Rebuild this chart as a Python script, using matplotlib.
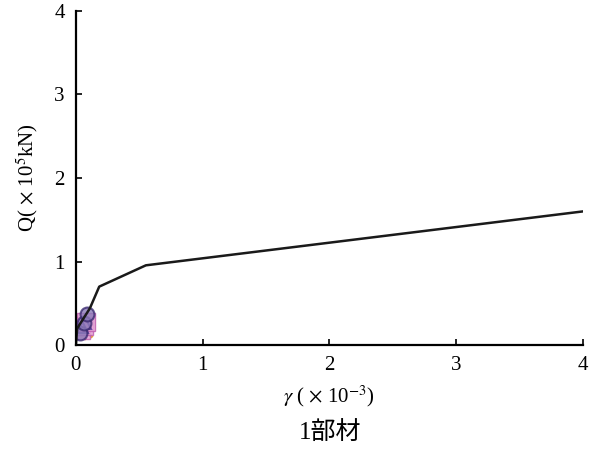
import numpy as np
import matplotlib
matplotlib.use("Agg")
import matplotlib.pyplot as plt

plt.rcParams['font.family'] = ['Liberation Serif', 'Noto Sans CJK JP', 'DejaVu Sans']
plt.rcParams['mathtext.fontset'] = 'stix'

# skeleton curve (analysis)
gamma_line = [0.0, 0.01, 0.11, 0.184, 0.552, 4.0]
q_line     = [0.0, 0.20, 0.44, 0.70, 0.955, 1.60]

# test results near the origin
gamma_circ = [0.03, 0.06, 0.09]
q_circ     = [0.15, 0.27, 0.37]
gamma_sq   = [0.04, 0.06, 0.08]
q_sq       = [0.18, 0.23, 0.28]
gamma_tri  = [0.05, 0.07]
q_tri      = [0.22, 0.27]
gamma_x    = [0.03, 0.06, 0.08]
q_x        = [0.14, 0.20, 0.17]

xticks = [0, 1, 2, 3, 4]
yticks = [0, 1, 2, 3, 4]

fig = plt.figure(figsize=(5.93, 4.5), dpi=100)
ax = fig.add_axes([0.128, 0.233, 0.855, 0.743])

ax.plot(gamma_x, q_x, 'x', color='#e8a23a', ms=8, mew=2)
ax.plot(gamma_sq, q_sq, 's', mfc='#e6a6d8', mec='#c060b0', ms=13, alpha=0.85)
ax.plot(gamma_tri, q_tri, '^', mfc='none', mec='#6a4aa0', ms=9, mew=1.5)
ax.plot(gamma_circ, q_circ, 'o', mfc='#8a7ab8', mec='#3a2a70', ms=10, mew=1.5, alpha=0.8)
ax.plot(gamma_line, q_line, color='#1a1a1a', lw=1.8)

ax.set_xlim(0, 4)
ax.set_ylim(0, 4)
ax.set_xticks(xticks)
ax.set_yticks(yticks)
ax.tick_params(direction='in', length=4, width=1.2, labelsize=15, pad=8)
for s in ['top', 'right']:
    ax.spines[s].set_visible(False)
for s in ['left', 'bottom']:
    ax.spines[s].set_linewidth(1.6)

ax.set_ylabel('Q( $\\times$ 10$^5$kN)', fontsize=15, labelpad=10)
ax.set_xlabel('$\\gamma$ ( $\\times$ 10$^{-3}$)', fontsize=15, labelpad=6)
fig.text(0.556, 0.022, '1部材', ha='center', fontsize=18)

fig.savefig('out.png', dpi=100, facecolor='white')
